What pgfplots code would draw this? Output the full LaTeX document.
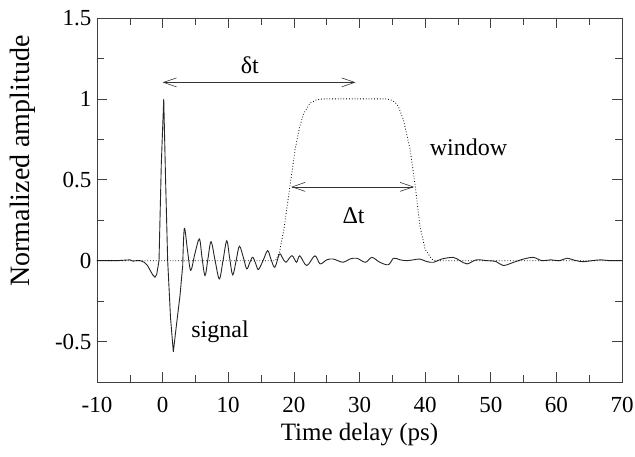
\documentclass[border=0pt]{standalone}
\usepackage{fontspec}
\setmainfont{Liberation Serif}
\usepackage{pgfplots}
\pgfplotsset{compat=1.18}
\usetikzlibrary{arrows.meta}
\pgfplotstableread{
x y
-10 0
-7 0
-5 0.005
-4.5 -0.003
-4 0
-3.4 0
-2.8 -0.01
-2.3 -0.03
-1.9 -0.06
-1.5 -0.088
-1.16 -0.102
-0.9 -0.085
-0.55 0
-0.2 0.6
0.17 1.0
0.45 0.5
0.77 0
1.2 -0.35
1.63 -0.564
2.1 -0.40
2.65 -0.215
3.06 -0.03
}\pulsedata
\pgfplotstableread{
x y
3.06 -0.03
3.31 0.2
3.8 0.06
4.28 -0.06
4.9 0.04
5.6 0.134
6.0 0.02
6.46 -0.092
6.9 0.01
7.38 0.117
8.0 0.0
8.64 -0.113
9.2 0.0
9.77 0.123
10.2 0.02
10.68 -0.088
11.2 0.0
11.7 0.089
12.3 0.02
12.82 -0.051
13.3 -0.01
13.73 0.021
14.2 -0.02
14.6 -0.055
15.3 0.0
16.0 0.062
16.5 0.01
17.1 -0.041
17.8 0.041
18.3 0.015
18.8 -0.01
19.7 0.031
20.4 -0.01
20.9 0.03
21.96 -0.03
23.2 0.03
24.0 -0.02
25.0 0.005
26 0.01
27.5 -0.01
28.5 0.01
29.6 0.015
30.9 -0.01
31.9 0.02
33.1 -0.01
34.4 -0.025
35.2 0.015
36.2 0.005
37.2 0
38.2 0.005
39.2 0.01
40.2 -0.005
41.3 -0.01
42.5 0.01
44.3 0.02
45.3 0.0
46.4 -0.02
47.8 0.005
49.4 0
50.8 -0.005
51.9 -0.03
53.5 -0.01
55 0.01
56.5 0.02
57.8 0.0
59.1 0.005
60.5 0.0
61.6 0.015
63 0.0
64.1 -0.006
65.5 0.0
66.7 0.005
68.3 0.0
70 0
}\signaldata
\pgfplotstableread{
x y
-10 0
17.2 0
17.8 0.05
18.5 0.2
19.4 0.46
20.2 0.69
20.9 0.83
21.5 0.91
22.5 0.975
23.5 0.995
24.5 1.0
34.0 1.0
34.7 0.995
35.4 0.98
35.9 0.955
36.7 0.87
37.7 0.69
38.5 0.46
39.2 0.215
40.0 0.07
41.0 0.01
41.5 0
70 0
}\windowdata
\begin{document}
\begin{tikzpicture}
\path[use as bounding box] (-97pt,-75pt) rectangle (538pt,382pt);
\begin{axis}[
  scale only axis,
  width=525pt, height=364pt,
  xmin=-10, xmax=70, ymin=-0.75, ymax=1.5,
  xtick={-10,0,...,70},
  xticklabels={-10,0,10,20,30,40,50,60,70},
  minor x tick num=1,
  ytick={-0.5,0,0.5,1,1.5},
  yticklabels={-0.5,0,0.5,1,1.5},
  minor y tick num=1,
  tick align=inside,
  major tick length=10pt,
  minor tick length=7pt,
  axis line style={line width=0.6pt, black!75},
  every tick/.style={line width=0.6pt, black!75},
  tick label style={font=\fontsize{23}{25}\selectfont},
  xticklabel style={yshift=-12pt},
  yticklabel style={xshift=-2pt},
  xlabel={Time delay (ps)},
  ylabel={Normalized amplitude},
  every axis y label/.style={at={(axis description cs:-0.141,0.607)}, rotate=90, anchor=center, font=\fontsize{28}{30}\selectfont},
  every axis x label/.style={at={(axis description cs:0.5,0)}, yshift=-38pt, anchor=north, font=\fontsize{25}{27}\selectfont},
  clip=false,
]
\addplot[line width=0.9pt, black!85] table[x=x,y=y] {\pulsedata};
\addplot[line width=0.9pt, black!85, smooth, tension=0.55] table[x=x,y=y] {\signaldata};
\addplot[line width=0.8pt, black, dotted] table[x=x,y=y] {\windowdata};
\draw[{Straight Barb[length=13pt,width=9pt]}-{Straight Barb[length=13pt,width=9pt]}, line width=0.6pt, black!80]
  (axis cs:0,1.102) -- (axis cs:29.4,1.102);
\draw[{Straight Barb[length=13pt,width=9pt]}-{Straight Barb[length=13pt,width=9pt]}, line width=0.6pt, black!80]
  (axis cs:19.6,0.456) -- (axis cs:38.3,0.456);
\node[font=\fontsize{24}{26}\selectfont] at (axis cs:13.3,1.21) {δt};
\node[font=\fontsize{24}{26}\selectfont] at (axis cs:29.1,0.277) {Δt};
\node[font=\fontsize{24}{26}\selectfont] at (axis cs:46.6,0.70) {window};
\node[font=\fontsize{24}{26}\selectfont] at (axis cs:8.75,-0.44) {signal};
\end{axis}
\end{tikzpicture}
\end{document}
